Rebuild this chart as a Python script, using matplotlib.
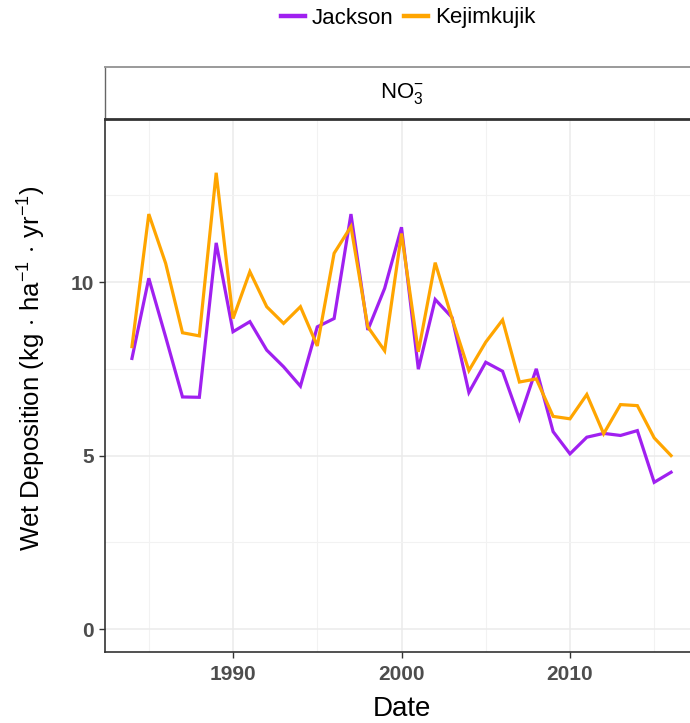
import matplotlib
matplotlib.use('Agg')
import matplotlib.pyplot as plt
import numpy as np

plt.rcParams['font.family'] = ['Liberation Sans', 'DejaVu Sans']
plt.rcParams['mathtext.fontset'] = 'custom'
plt.rcParams['mathtext.rm'] = 'Liberation Sans'
plt.rcParams['mathtext.it'] = 'Liberation Sans:italic'
plt.rcParams['mathtext.bf'] = 'Liberation Sans:bold'

# annual NO3- wet deposition, kg/ha/yr
years = np.arange(1984, 2017)
jackson = [7.80, 10.11, 8.42, 6.69, 6.68, 11.13, 8.57, 8.86, 8.04, 7.56,
           7.00, 8.71, 8.95, 11.96, 8.62, 9.82, 11.58, 7.49, 9.50, 8.98,
           6.82, 7.69, 7.43, 6.06, 7.50, 5.69, 5.05, 5.53, 5.64, 5.58,
           5.72, 4.23, 4.52]
kejimkujik = [8.14, 11.96, 10.54, 8.54, 8.45, 13.15, 8.95, 10.30, 9.29, 8.81,
              9.29, 8.16, 10.83, 11.60, 8.71, 8.02, 11.40, 7.99, 10.56, 8.95,
              7.45, 8.27, 8.91, 7.12, 7.21, 6.13, 6.06, 6.76, 5.63, 6.47,
              6.44, 5.51, 5.00]
sites = ['Jackson', 'Kejimkujik']
colors = ['#A020F0', '#FFA500']

W, H = 690, 723
fig = plt.figure(figsize=(W / 100, H / 100), dpi=100)

# panel and strip in pixel units
left, right, top, bottom = 105, 698, 119, 652
ax = fig.add_axes([left / W, 1 - bottom / H, (right - left) / W, (bottom - top) / H])
strip = fig.add_axes([left / W, 1 - top / H, (right - left) / W, (top - 67) / H])

for vals, c, name in zip([jackson, kejimkujik], colors, sites):
    ax.plot(years, vals, color=c, lw=2.3, label=name, solid_joinstyle='miter')

ax.set_xlim(1982.4, 2017.6)
ax.set_ylim(-0.66, 14.7)
ax.set_xticks([1990, 2000, 2010])
ax.set_xticks([1985, 1995, 2005, 2015], minor=True)
ax.set_yticks([0, 5, 10])
ax.set_yticks([2.5, 7.5, 12.5], minor=True)
ax.grid(which='major', color='#EBEBEB', lw=1.1)
ax.grid(which='minor', color='#F2F2F2', lw=0.8)
ax.set_axisbelow(True)
ax.tick_params(which='major', length=4, width=1, color='#333333', pad=5,
               labelsize=15, labelcolor='#4D4D4D')
ax.tick_params(axis='y', which='major', pad=4)
ax.tick_params(which='minor', length=0)
for lab in ax.get_xticklabels() + ax.get_yticklabels():
    lab.set_fontweight('bold')
for s in ['left', 'bottom']:
    ax.spines[s].set_color('#333333')
    ax.spines[s].set_linewidth(1.2)
ax.spines['top'].set_visible(False)
ax.spines['right'].set_visible(False)
ax.set_xlabel('Date', fontsize=20, labelpad=9)

fig.text(32 / W, 1 - 368 / H,
         r'Wet Deposition (kg$\,\cdot\,$ha$^{-1}$$\,\cdot\,$yr$^{-1}$)',
         rotation=90, fontsize=18.5, ha='center', va='center')

# facet strip
strip.set_xticks([])
strip.set_yticks([])
strip.set_facecolor('white')
strip.spines['top'].set_color('#9A9A9A')
strip.spines['top'].set_linewidth(1.4)
strip.spines['left'].set_color('#666666')
strip.spines['left'].set_linewidth(1.0)
strip.spines['bottom'].set_color('#333333')
strip.spines['bottom'].set_linewidth(2.0)
strip.spines['right'].set_visible(False)
strip.text(0.5, 0.5, r'NO$_3^{-}$', fontsize=16, ha='center', va='center',
           transform=strip.transAxes)

fig.legend(loc='center', bbox_to_anchor=(408 / W, 1 - 18 / H), ncol=2,
           frameon=False, fontsize=16, handlelength=1.1, handletextpad=0.3,
           columnspacing=0.45, borderpad=0)
for h in fig.legends[0].get_lines():
    h.set_linewidth(3.2)

fig.savefig('out.png', dpi=100)
